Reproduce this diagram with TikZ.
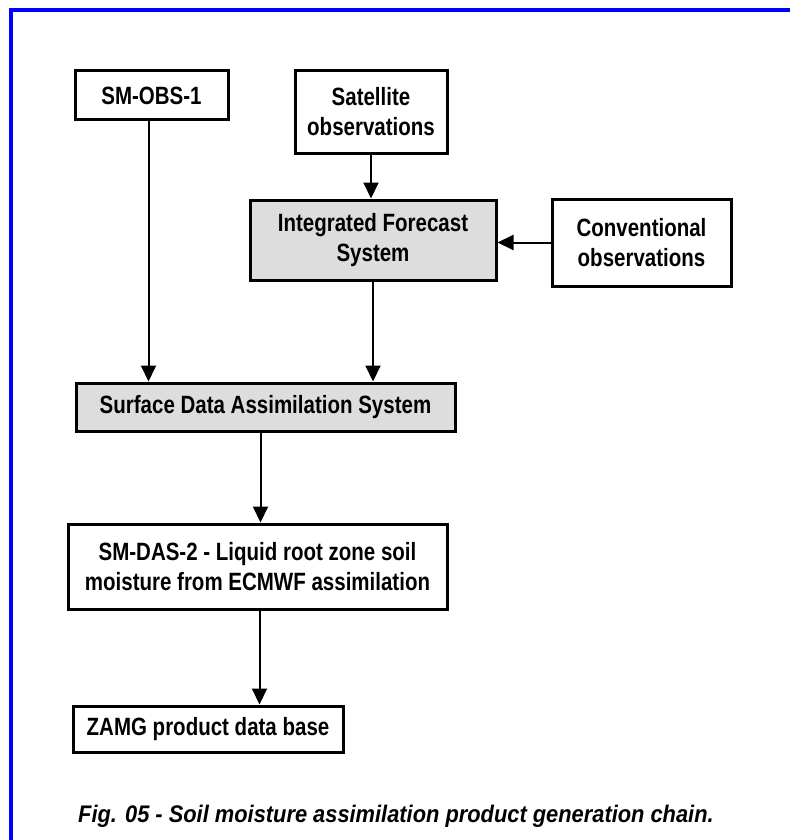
\documentclass[tikz,border=0pt]{standalone}
\usepackage{fontspec}
\setmainfont{Liberation Sans}[FakeStretch=0.82]
\newfontfamily\capfont{Liberation Sans}[FakeStretch=0.91]
\usetikzlibrary{arrows.meta}
\tikzset{
  >={Triangle[width=15pt,length=16pt]},
}
\tikzstyle{block}=[draw,line width=3pt,align=center,inner sep=0pt,font=\fontsize{25}{30}\selectfont\bfseries]
\tikzstyle{greyblock}=[block,fill=gray!27]
\tikzstyle{flow}=[line width=2pt,->]
\tikzstyle{caption}=[font=\fontsize{24}{29}\selectfont\capfont\bfseries\itshape,anchor=base west,inner sep=0pt]

\begin{document}
\begin{tikzpicture}[x=1pt,y=-1pt]
    \useasboundingbox (0,0) rectangle (790,840);
    \draw[blue,line width=3.5pt] (790,10) -- (11,10) -- (11,840);
    % sources
    \node[block,minimum width=153,minimum height=49] (smobs) at (151.5,95.5) {SM-OBS-1};
    \node[block,minimum width=152,minimum height=82] (sat) at (371,112) {Satellite\\observations};
    \node[greyblock,minimum width=246,minimum height=80] (ifs) at (373,240) {Integrated Forecast\\System};
    \node[block,minimum width=179,minimum height=87] (conv) at (641.5,242.5) {Conventional\\observations};
    % chain
    \node[greyblock,minimum width=379,minimum height=48] (sdas) at (265.5,407) {Surface Data Assimilation System};
    \node[block,minimum width=379,minimum height=85] (smdas) at (257.5,566.5) {SM-DAS-2 - Liquid root zone soil\\moisture from ECMWF assimilation};
    \node[block,minimum width=270,minimum height=46] (zamg) at (208,729) {ZAMG product data base};
    \draw[flow] ([xshift=-3]smobs.south) -- ([xshift=-3]smobs.south |- sdas.north);
    \draw[flow] (sat.south) -- (sat.south |- ifs.north);
    \draw[flow] (conv.west) -- (conv.west -| ifs.east);
    \draw[flow] (ifs.south) -- (ifs.south |- sdas.north);
    \draw[flow] ([xshift=-5]sdas.south) -- ([xshift=-5]sdas.south |- smdas.north);
    \draw[flow] ([xshift=2]smdas.south) -- ([xshift=2]smdas.south |- zamg.north);
    \node[caption] (cap) at (78,822) {Fig. 05 - Soil moisture assimilation product generation chain.};
\end{tikzpicture}
\end{document}
